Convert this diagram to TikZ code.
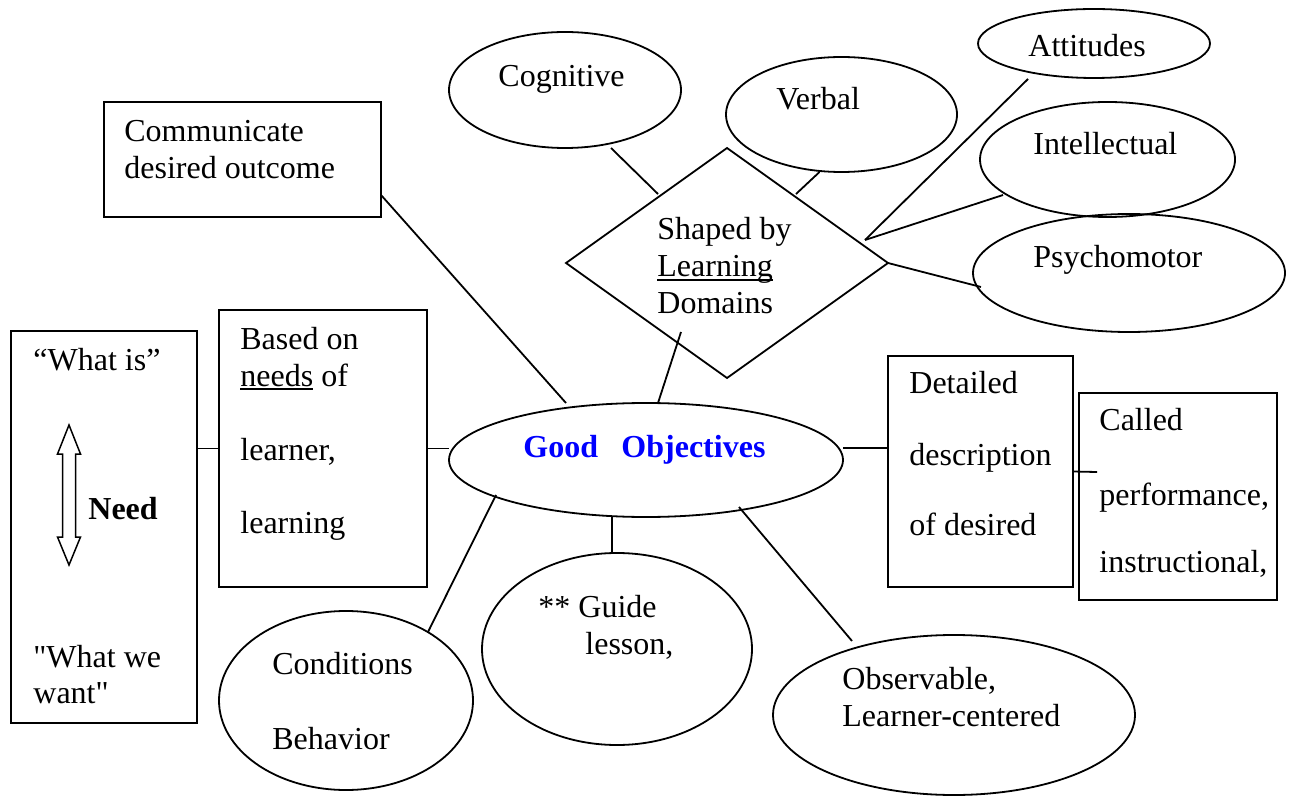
\documentclass[tikz,border=0pt]{standalone}
\usepackage{fontspec}
\setmainfont{Liberation Serif}
\newfontfamily\plainq{Liberation Serif}
\usetikzlibrary{shapes.geometric,calc}
\newcommand\myul[1]{\leavevmode\setbox0\hbox{#1}\rlap{\rule[-2pt]{\wd0}{0.9pt}}\box0\relax}
\begin{document}
\begin{tikzpicture}[x=0.5pt,y=-0.5pt,
  every node/.style={font=\fontsize{16pt}{18.5pt}\selectfont},
  shp/.style={draw,line width=0.9pt,inner sep=0pt,outer sep=0pt},
  oval/.style={shp,ellipse},
  box/.style={shp,rectangle},
  txt/.style={anchor=base west,inner sep=0pt,align=left},
  link/.style={line width=0.9pt}]
\useasboundingbox (0,0) rectangle (1289,796);
% shapes
\node[box,minimum width=138.5pt,minimum height=57.5pt] (comm) at (242.5,159.5) {};
\node[oval,minimum width=116pt,minimum height=58pt] (cog) at (565,90) {};
\node[oval,minimum width=115.5pt,minimum height=57.5pt] (verb) at (841.5,114.5) {};
\node[oval,minimum width=116pt,minimum height=34.5pt] (att) at (1094,43.5) {};
\node[oval,minimum width=127.5pt,minimum height=57.5pt] (intel) at (1107.5,159.5) {};
\node[oval,minimum width=156pt,minimum height=59pt] (psy) at (1129,273) {};
\node[shp,diamond,minimum width=161pt,minimum height=115pt] (dia) at (727,263) {};
\node[oval,minimum width=197pt,minimum height=57pt] (go) at (646,460) {};
\node[box,minimum width=93pt,minimum height=196pt] (whatis) at (104,527) {};
\node[box,minimum width=104pt,minimum height=138.5pt] (based) at (323,448.5) {};
\node[box,minimum width=92.5pt,minimum height=115.5pt] (det) at (980.5,471.5) {};
\node[box,minimum width=99pt,minimum height=103.5pt] (called) at (1178,496.5) {};
\node[oval,minimum width=135pt,minimum height=96pt] (guide) at (617,649) {};
\node[oval,minimum width=127pt,minimum height=89.5pt] (cond) at (346,700.5) {};
\node[oval,minimum width=181pt,minimum height=80pt] (obs) at (954,715) {};
% double arrow
\draw[line width=0.75pt] (69,425) -- (80.5,454) -- (75.5,454) -- (75.5,537) -- (80.5,537) -- (69,565)
  -- (57.5,537) -- (62.5,537) -- (62.5,454) -- (57.5,454) -- cycle;
% texts (multi-line nodes: base = last line's baseline)
\node[txt] (tcomm) at (124,179) {Communicate\\desired outcome};
\node[txt] (tcog) at (498,87) {Cognitive};
\node[txt] (tverb) at (776,110) {Verbal};
\node[txt] (tatt) at (1028,57) {Attitudes};
\node[txt] (tint) at (1033,155) {Intellectual};
\node[txt] (tpsy) at (1033,268) {Psychomotor};
\node[txt] (tdia) at (657,314) {Shaped by\\\myul{Learning}\\Domains};
\node[txt,font=\fontsize{16pt}{18.5pt}\selectfont\bfseries,text=blue] (tgo) at (523,457) {Good\hspace{11.7pt}Objectives};
\node[txt] (twi) at (33,371) {“What is”};
\node[txt,font=\fontsize{16pt}{18.5pt}\selectfont\bfseries] (tneed) at (88,519) {Need};
\node[txt,font=\fontsize{16pt}{18pt}\selectfont\plainq] (tww) at (33,703) {"What we\\want"};
\node[txt] (tbased) at (240,533) {Based on\\\myul{needs} of\\[18.5pt]learner,\\[18pt]learning};
\node[txt] (tdet) at (909,535) {Detailed\\[17.5pt]description\\[16.5pt]of desired};
\node[txt] (tcalled) at (1099,572) {Called\\[19pt]performance,\\[15pt]instructional,};
\node[txt] (tguide) at (538,654) {** Guide\\\hspace{23.5pt}lesson,};
\node[txt] (tcond) at (272,749) {Conditions\\[19pt]Behavior};
\node[txt] (tobs) at (842,726) {Observable,\\Learner-centered};
% connectors
\draw[link] ($(comm.east)+(0,35.5)$) -- ($(go.north)+(-80,0)$);
\draw[link] ($(dia.center)+(-46,69)$) -- ($(go.north)+(12,0)$);
\draw[link] ($(cog.south)+(46,0)$) -- ($(dia.center)+(-69,-69)$);
\draw[link] ($(verb.south)+(-22,0)$) -- ($(dia.center)+(69,-69)$);
\coordinate (hub) at ($(dia.center)+(138,-23)$);
\draw[link] ($(att.south)+(-66,1)$) -- (hub);
\draw[link] ($(intel.center)+(-104.5,35.5)$) -- (hub);
\draw[link] (dia.east) -- ($(psy.center)+(-148,14)$);
\draw[link] (based.west) -- (based.west -| whatis.east);
\draw[link] (based.east) -- (based.east -| go.west);
\coordinate (dl) at ($(det.west)+(0,-23.5)$);
\draw[link] (dl) -- (dl -| go.east);
\draw[link] (det.east) -- ($(called.west)+(18,-24.5)$);
\coordinate (gs) at ($(go.south)+(-34,0)$);
\draw[link] (gs) -- (gs |- guide.north);
\draw[link] ($(go.center)+(-150,35)$) -- ($(cond.center)+(82,-68.5)$);
\draw[link] ($(go.center)+(93,47)$) -- ($(obs.center)+(-102,-74)$);
\end{tikzpicture}
\end{document}
